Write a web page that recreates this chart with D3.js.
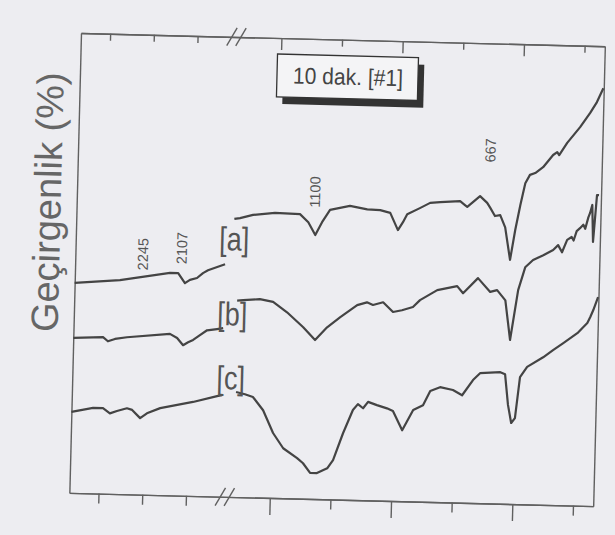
<!DOCTYPE html>
<html>
<head>
<meta charset="utf-8">
<script src="https://cdn.jsdelivr.net/npm/d3@7"></script>
<style>
  body { margin: 0; background: #ededf1; }
  svg { display: block; font-family: "Liberation Sans", Arial, sans-serif; }
</style>
</head>
<body>
<div id="chart"></div>
<script>
// wavenumber (cm-1), transmittance (%) -- left part before the axis break, right part after it
var aLeft = [[2500,42.0],[2345,42.8],[2174,44.5],[2146,44.5],[2122,42.5],[2105,43.2],[2081,43.6],[2061,44.6],[2044,45.2],[1986,46.5]];
var aRight = [[1305,55.6],[1291,55.8],[1259,56.5],[1205,57.0],[1143,56.9],[1122,55.3],[1104,52.8],[1088,55.4],[1069,57.9],[1020,58.8],
  [977,58.2],[945,58.1],[920,57.6],[900,54.2],[888,55.8],[878,57.4],[847,58.7],[822,59.8],[797,60.0],[748,60.3],[735,59.5],[730,59.2],
  [699,61.4],[681,60.1],[673,59.1],[661,57.5],[648,57.7],[635,55.3],[621,48.8],[610,54.8],[599,59.8],[588,64.2],[577,65.9],[564,66.3],
  [545,67.5],[521,70.0],[511,70.6],[506,70.0],[487,72.5],[456,75.7],[432,78.6],[416,80.8],[401,83.6]];

var bLeft = [[2500,31.0],[2398,31.3],[2381,30.5],[2357,31.0],[2316,31.4],[2169,32.3],[2144,31.5],[2123,30.1],[2106,30.7],[2089,31.2],
  [2066,32.2],[2042,33.2],[2008,33.5],[1987,33.7]];
var bRight = [[1293,39.3],[1278,39.4],[1237,39.7],[1204,39.2],[1169,37.2],[1128,34.3],[1098,31.8],[1069,34.4],[1037,36.5],[996,39.0],
  [972,39.6],[957,39.1],[932,39.7],[907,37.8],[885,38.2],[858,38.9],[841,40.3],[799,42.4],[750,43.3],[735,41.9],[699,45.0],[668,42.3],
  [651,42.7],[630,40.7],[616,32.8],[599,42.8],[583,47.4],[564,48.9],[539,49.9],[515,51.0],[503,52.0],[493,50.6],[481,53.1],[470,53.7],
  [465,53.0],[458,54.9],[450,55.5],[442,56.2],[437,55.4],[430,57.7],[426,58.6],[421,60.2],[417,52.8],[410,62.2],[405,62.2]];

var cLeft = [[2500,16.2],[2426,17.1],[2392,17.1],[2368,16.1],[2344,16.6],[2310,17.2],[2292,16.9],[2264,15.3],[2241,16.3],[2196,17.4],
  [2084,18.8],[2002,20.1],[1985,20.3]];
var cRight = [[1290,21.0],[1268,20.6],[1248,20.1],[1222,17.5],[1196,13.0],[1170,10.0],[1135,8.1],[1120,7.1],[1102,5.2],[1085,5.2],
  [1060,6.2],[1046,7.9],[1023,13.3],[1000,18.0],[988,19.2],[975,18.4],[963,19.7],[941,19.1],[916,18.5],[901,18.0],[877,14.2],[851,18.3],
  [827,19.3],[810,22.2],[786,23.0],[754,22.5],[731,21.5],[705,24.6],[688,26.0],[638,26.3],[626,25.9],[617,19.8],[608,16.2],[599,17.2],
  [589,25.4],[572,27.5],[533,29.5],[509,31.0],[485,32.4],[450,34.5],[426,36.6],[419,37.8],[412,39.2],[401,41.8]];

var xTicksMinor = [2400, 2250, 2100, 1050, 750, 450];
var xTicksMajor = [1200, 900, 600];

var peakLabels = ["2245", "2107", "1100", "667"];
var peakPos = [[2268,48.1],[2135,49.5],[1107,61.4],[676,70.6]];
var traceLabels = ["[a]", "[b]", "[c]"];
var tracePos = [[1304,51.6],[1304,36.6],[1304,23.8]];
var legendText = "10 dak. [#1]";
var yTitle = "Geçirgenlik (%)";

var width = 524, height = 460;

var svg = d3.select("#chart").append("svg")
  .attr("width", 615)
  .attr("height", 535);

// the scanned figure sits slightly tilted
var g = svg.append("g").attr("transform", "translate(81,33) rotate(1.45)");

var x = d3.scaleLinear()
  .domain([2500, 1965, 1310, 400])
  .range([0, 156, 156, width]);
var y = d3.scaleLinear()
  .domain([0, 92])
  .range([height, 0]);

function ticks(vals, size){
  return d3.axisBottom(x).tickValues(vals).tickSize(size).tickSizeOuter(0).tickFormat("");
}
g.append("g").attr("class","axis").call(ticks(xTicksMinor, 7));
g.append("g").attr("class","axis").call(ticks(xTicksMajor, 12));
g.append("g").attr("class","axis").attr("transform","translate(0,"+height+")").call(ticks(xTicksMinor, 10));
g.append("g").attr("class","axis").attr("transform","translate(0,"+height+")").call(ticks(xTicksMajor, 17));
g.append("g").attr("class","axis").call(d3.axisLeft(y).tickValues([]).tickSizeOuter(0));
g.append("g").attr("class","axis").attr("transform","translate("+width+",0)").call(d3.axisRight(y).tickValues([]).tickSizeOuter(0));
g.selectAll(".axis path, .axis line").attr("stroke","#606060").attr("stroke-width",1.4);

// break marks
var bx = x(1965);
[0, height].forEach(function(yy){
  [-5, 4].forEach(function(off){
    g.append("line")
      .attr("x1", bx + off - 5).attr("y1", yy + 9)
      .attr("x2", bx + off + 5).attr("y2", yy - 9)
      .attr("stroke","#606060").attr("stroke-width",1.4);
  });
});

var line = d3.line()
  .x(function(d){ return x(d[0]); })
  .y(function(d){ return y(d[1]); });

[aLeft, aRight, bLeft, bRight, cLeft, cRight].forEach(function(seg){
  g.append("path")
    .datum(seg)
    .attr("d", line)
    .attr("fill","none")
    .attr("stroke","#444")
    .attr("stroke-width",2.2)
    .attr("stroke-linejoin","round");
});

g.selectAll(".peak")
  .data(peakLabels)
  .enter().append("text")
  .attr("class","peak")
  .attr("transform", function(d,i){
    return "translate("+x(peakPos[i][0])+","+y(peakPos[i][1])+") rotate(-90)";
  })
  .attr("text-anchor","middle")
  .attr("dominant-baseline","central")
  .style("font-size","14.5px")
  .style("fill","#555")
  .text(function(d){ return d; });

// tall, narrow bracket labels
g.selectAll(".trace")
  .data(traceLabels)
  .enter().append("text")
  .attr("class","trace")
  .attr("transform", function(d,i){
    return "translate("+x(tracePos[i][0])+","+y(tracePos[i][1])+") scale(0.82,1)";
  })
  .attr("text-anchor","middle")
  .attr("dominant-baseline","central")
  .style("font-size","33px")
  .style("fill","#555")
  .text(function(d){ return d; });

// legend box with drop shadow
var lg = g.append("g").attr("transform","translate(197,16)");
lg.append("rect").attr("x",6).attr("y",7).attr("width",141).attr("height",43).attr("fill","#333");
lg.append("rect").attr("width",141).attr("height",43)
  .attr("fill","#f4f4f6").attr("stroke","#333").attr("stroke-width",1.3);
lg.append("text")
  .attr("x",16).attr("y",29)
  .attr("textLength",110)
  .attr("lengthAdjust","spacingAndGlyphs")
  .style("font-size","23px")
  .style("fill","#444")
  .text(legendText);

g.append("text")
  .attr("transform","translate(-16,170) rotate(-90)")
  .attr("text-anchor","middle")
  .style("font-size","38px")
  .style("fill","#666")
  .text(yTitle);
</script>
</body>
</html>
